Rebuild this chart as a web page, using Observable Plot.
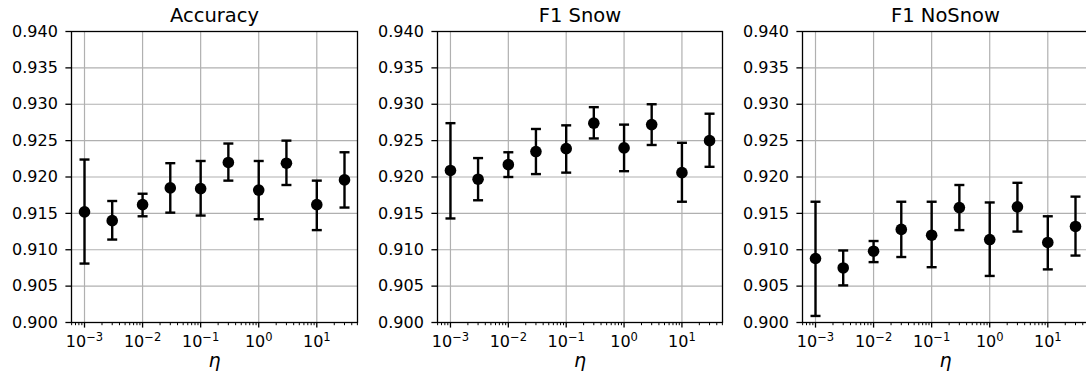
<!DOCTYPE html>
<html>
<head>
<meta charset="utf-8">
<script src="https://cdn.jsdelivr.net/npm/d3@7"></script>
<script src="https://cdn.jsdelivr.net/npm/@observablehq/plot@0.6"></script>
<style>
  html, body { margin: 0; padding: 0; background: white; overflow: hidden; }
  #wrap { position: relative; width: 1086px; height: 383px; overflow: hidden; }
</style>
</head>
<body>
<div id="wrap"></div>
<script>
// ---- data ----
const eta = [0.001, 0.003, 0.01, 0.03, 0.1, 0.3, 1, 3, 10, 30];
const titles = ["Accuracy", "F1 Snow", "F1 NoSnow"];

const accMean = [0.9152, 0.9140, 0.9162, 0.9185, 0.9184, 0.9220, 0.9182, 0.9219, 0.9162, 0.9196];
const accLo   = [0.9081, 0.9114, 0.9146, 0.9151, 0.9147, 0.9195, 0.9142, 0.9189, 0.9127, 0.9158];
const accHi   = [0.9224, 0.9167, 0.9177, 0.9219, 0.9222, 0.9246, 0.9222, 0.9250, 0.9195, 0.9234];

const snowMean = [0.9209, 0.9197, 0.9217, 0.9235, 0.9239, 0.9274, 0.9240, 0.9272, 0.9206, 0.9250];
const snowLo   = [0.9143, 0.9168, 0.9200, 0.9204, 0.9206, 0.9253, 0.9208, 0.9244, 0.9166, 0.9214];
const snowHi   = [0.9274, 0.9226, 0.9234, 0.9266, 0.9271, 0.9296, 0.9272, 0.9300, 0.9247, 0.9287];

const noSnowMean = [0.9088, 0.9075, 0.9098, 0.9128, 0.9120, 0.9158, 0.9114, 0.9159, 0.9110, 0.9132];
const noSnowLo   = [0.9009, 0.9051, 0.9083, 0.9090, 0.9076, 0.9127, 0.9064, 0.9125, 0.9073, 0.9092];
const noSnowHi   = [0.9166, 0.9099, 0.9112, 0.9166, 0.9166, 0.9189, 0.9165, 0.9192, 0.9146, 0.9173];

const yTicks = [0.900, 0.905, 0.910, 0.915, 0.920, 0.925, 0.930, 0.935, 0.940];
const xMajor = [0.001, 0.01, 0.1, 1, 10];
const xLabel = "η";

// ---- helpers ----
const fmtPow = d => "10^" + Math.round(Math.log10(d));

const xDomain = [Math.pow(10, -3.224), Math.pow(10, 1.701)];
const xMinor = d3.scaleLog().domain(xDomain).ticks().filter(v => !xMajor.some(m => Math.abs(m - v) / m < 1e-9));

const capSymbol = { draw(ctx) { ctx.moveTo(-5, 0); ctx.lineTo(5, 0); } };

const panels = [
  {title: titles[0], mean: accMean, lo: accLo, hi: accHi, left: 0, width: 360},
  {title: titles[1], mean: snowMean, lo: snowLo, hi: snowHi, left: 366, width: 359},
  {title: titles[2], mean: noSnowMean, lo: noSnowLo, hi: noSnowHi, left: 731, width: 360}
];

const wrap = document.getElementById("wrap");
for (const p of panels) {
  const data = eta.map((e, i) => ({eta: e, mean: p.mean[i], lo: p.lo[i], hi: p.hi[i]}));
  const chart = Plot.plot({
    width: p.width,
    height: 383,
    marginLeft: 71,
    marginRight: 3,
    marginTop: 31,
    marginBottom: 61,
    style: {fontFamily: "DejaVu Sans", fontSize: "16px", color: "black", background: "white", overflow: "visible"},
    x: {type: "log", domain: xDomain},
    y: {domain: [0.9, 0.94]},
    marks: [
      Plot.gridX(xMajor, {stroke: "#b0b0b0", strokeOpacity: 1, strokeWidth: 1.2}),
      Plot.gridY(yTicks, {stroke: "#b0b0b0", strokeOpacity: 1, strokeWidth: 1.2}),
      Plot.axisY({ticks: yTicks, tickFormat: d3.format(".3f"), tickSize: 5.6, tickPadding: 8, fontSize: 16, stroke: "black", strokeWidth: 1.3, label: null}),
      Plot.axisX({ticks: xMajor, tickFormat: fmtPow, tickSize: 5.6, tickPadding: 8, fontSize: 16, stroke: "black", strokeWidth: 1.3, label: null}),
      Plot.axisX({ticks: xMinor, tickFormat: () => "", tickSize: 3.2, stroke: "black", strokeWidth: 1, label: null}),
      Plot.ruleX(data, {x: "eta", y1: "lo", y2: "hi", stroke: "black", strokeWidth: 2.4}),
      Plot.dot(data, {x: "eta", y: "lo", symbol: capSymbol, r: 5, fill: "none", stroke: "black", strokeWidth: 2.4}),
      Plot.dot(data, {x: "eta", y: "hi", symbol: capSymbol, r: 5, fill: "none", stroke: "black", strokeWidth: 2.4}),
      Plot.dot(data, {x: "eta", y: "mean", r: 5.8, fill: "black", stroke: "none"}),
      Plot.frame({stroke: "black", strokeWidth: 1.3}),
      Plot.text([p.title], {frameAnchor: "top", lineAnchor: "bottom", dy: -10, fontSize: 19.5, fill: "black"}),
      Plot.text([xLabel], {frameAnchor: "bottom", lineAnchor: "bottom", dy: 44, fontSize: 19, fontStyle: "italic", fill: "black"})
    ]
  });
  // render exponents as raised, smaller text (like matplotlib mathtext)
  d3.select(chart).selectAll("text").each(function () {
    const m = /^10\^(-?\d+)$/.exec(this.textContent);
    if (!m) return;
    const el = d3.select(this);
    el.text("");
    el.append("tspan").text("10");
    el.append("tspan").attr("font-size", "0.72em").attr("dy", "-0.55em").text(m[1].replace("-", "\u2212"));
  });
  chart.style.position = "absolute";
  chart.style.left = p.left + "px";
  chart.style.top = "0px";
  wrap.appendChild(chart);
}
</script>
</body>
</html>
